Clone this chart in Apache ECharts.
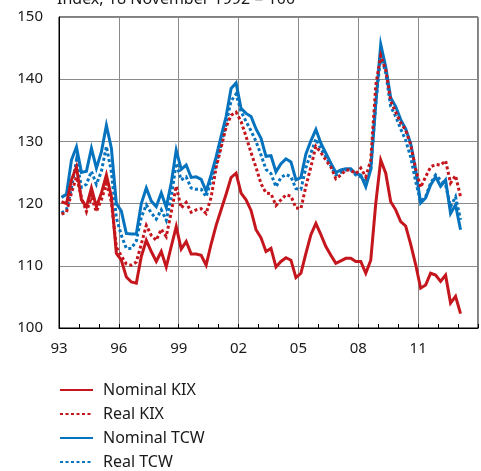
<!DOCTYPE html>
<html>
<head>
<meta charset="utf-8">
<script src="https://cdn.jsdelivr.net/npm/echarts@6/dist/echarts.min.js"></script>
<style>
html,body{margin:0;padding:0;background:#fff;}
#chart{width:481px;height:471px;}
</style>
</head>
<body>
<div id="chart"></div>
<script>
// Quarterly observations, first quarter = 1993 Q1, plotted at mid-quarter
const firstYear = 1993;
const firstQuarter = 1;
const seriesNames = ['Nominal KIX', 'Real KIX', 'Nominal TCW', 'Real TCW'];
const xTickLabels = ['93', '96', '99', '02', '05', '08', '11'];
const yTicks = [100, 110, 120, 130, 140, 150];

const nominalKIX = [120.3,120.0,123.8,125.9,120.6,119.5,122.5,119.5,121.7,124.6,
121.1,112.0,110.9,108.2,107.4,107.2,111.5,114.1,112.3,110.7,
112.3,109.8,113.1,116.3,112.7,113.9,111.9,111.9,111.7,110.1,
113.5,116.5,119.0,121.5,124.2,124.9,121.7,120.6,118.9,115.8,
114.5,112.3,112.8,109.8,110.7,111.3,110.9,108.1,108.8,112.0,
115.0,116.8,115.0,113.1,111.7,110.4,110.8,111.2,111.2,110.7,
110.7,108.8,110.9,120.0,127.0,124.9,120.3,119.0,117.1,116.4,
113.5,110.2,106.4,106.9,108.8,108.5,107.5,108.5,104.0,105.1,
102.3];

const realKIX = [118.3,118.6,121.7,124.3,121.0,118.7,121.0,118.7,120.6,123.2,
120.3,113.0,111.6,110.3,110.1,110.6,113.5,116.5,114.9,114.1,
115.9,114.7,118.6,122.8,119.3,120.2,118.6,119.0,119.2,118.4,
121.0,125.8,129.0,132.3,134.2,134.7,133.2,130.8,128.2,125.8,
123.2,121.7,121.6,119.7,120.6,121.4,121.2,119.3,119.2,122.8,
125.9,129.2,128.2,127.0,125.9,124.0,124.6,125.4,125.4,124.8,
125.7,124.3,127.0,139.0,143.8,141.5,136.5,134.7,133.0,131.8,
129.5,125.6,122.6,124.3,125.9,126.3,126.2,126.9,123.3,124.5,
121.1];

const nominalTCW = [121.0,121.5,127.0,129.1,125.0,125.2,128.9,125.7,128.3,132.6,
128.9,120.0,118.8,115.2,115.1,115.1,120.0,122.5,120.4,119.5,
121.7,119.4,123.3,128.6,125.5,126.2,124.2,124.3,123.9,122.0,
124.6,127.5,130.8,134.0,138.5,139.4,135.3,134.5,134.0,132.0,
130.5,127.6,127.7,125.1,126.4,127.2,126.7,123.8,124.2,128.0,
130.1,131.9,129.7,128.1,126.5,125.0,125.4,125.6,125.6,124.8,
124.6,122.7,125.5,136.0,145.6,142.0,137.0,135.6,133.5,132.0,
129.7,125.5,120.1,120.9,123.0,124.3,122.8,123.8,118.4,119.8,
115.8];

const realTCW = [118.5,119.0,122.5,127.0,122.6,123.1,125.2,123.1,125.2,129.2,
125.1,117.7,114.9,112.8,112.8,114.0,117.8,119.8,118.5,117.5,
119.0,117.3,121.1,126.5,123.8,124.3,122.5,122.3,122.3,121.1,
123.8,126.2,129.5,132.9,136.5,137.6,134.8,133.2,131.7,130.0,
127.8,125.5,124.8,122.7,124.2,124.7,124.3,122.4,122.3,125.8,
128.1,130.4,128.8,127.5,126.1,124.6,125.0,125.4,125.4,124.6,
124.3,123.5,125.5,136.0,143.9,141.0,135.6,134.0,132.0,130.2,
127.5,123.6,120.3,121.1,123.3,124.6,123.8,123.0,119.5,121.1,
117.4];

const RED = '#c4161c';
const BLUE = '#0573bd';

function toPairs(values) {
  return values.map((v, i) => {
    const q = firstQuarter - 1 + i;
    const t = firstYear + Math.floor(q / 4) + ((q % 4) + 0.5) / 4;
    return [t, v];
  });
}

const FONT = 'Noto Sans';
const chart = echarts.init(document.getElementById('chart'), null, {renderer: 'canvas'});

function lineSeries(name, values, color, dotted, z) {
  return {
    name: name,
    type: 'line',
    data: toPairs(values),
    symbol: 'none',
    smooth: false,
    z: z,
    lineStyle: {
      color: color,
      width: 3,
      type: dotted ? [3, 2.5] : 'solid',
      cap: 'butt',
      join: 'miter'
    },
    itemStyle: {color: color},
    emphasis: {disabled: true}
  };
}

chart.setOption({
  animation: false,
  backgroundColor: '#fff',
  textStyle: {fontFamily: FONT},
  graphic: [{
    type: 'text',
    left: 57,
    top: -9,
    style: {
      text: 'Index, 18 November 1992 = 100',
      font: '16px "Noto Sans"',
      fill: '#1a1a1a'
    }
  }],
  grid: {
    left: 59, right: 3, top: 17, bottom: 143,
    show: true, borderColor: '#000', borderWidth: 1,
    containLabel: false
  },
  legend: {
    orient: 'vertical',
    left: 59,
    top: 382,
    padding: 0,
    itemWidth: 33,
    itemHeight: 14,
    itemGap: 8,
    data: seriesNames,
    itemStyle: {color: 'rgba(0,0,0,0)', borderWidth: 0, opacity: 0},
    textStyle: {fontFamily: FONT, fontSize: 16, color: '#1a1a1a', padding: [0, 0, 0, 5]}
  },
  xAxis: {
    type: 'value',
    min: 1993,
    max: 2014,
    interval: 3,
    axisLine: {show: true, lineStyle: {color: '#000', width: 1}},
    axisTick: {show: true, inside: true, length: 4, lineStyle: {color: '#000'}},
    minorTick: {show: true, splitNumber: 3, length: 4, lineStyle: {color: '#000'}},
    splitLine: {show: true, lineStyle: {color: '#8a8a8a', width: 1}},
    axisLabel: {
      margin: 13,
      fontFamily: FONT,
      fontSize: 15,
      color: '#1a1a1a',
      formatter: function (v) {
        const idx = Math.round((v - 1993) / 3);
        return xTickLabels[idx] !== undefined ? xTickLabels[idx] : '';
      }
    }
  },
  yAxis: {
    type: 'value',
    min: yTicks[0],
    max: yTicks[yTicks.length - 1],
    interval: 10,
    axisLine: {show: true, lineStyle: {color: '#000', width: 1}},
    axisTick: {show: false},
    splitLine: {show: true, lineStyle: {color: '#8a8a8a', width: 1}},
    axisLabel: {margin: 16, fontFamily: FONT, fontSize: 15, color: '#1a1a1a'}
  },
  series: [
    lineSeries(seriesNames[2], nominalTCW, BLUE, false, 2),
    lineSeries(seriesNames[3], realTCW, BLUE, true, 3),
    lineSeries(seriesNames[0], nominalKIX, RED, false, 4),
    lineSeries(seriesNames[1], realKIX, RED, true, 5)
  ]
});
</script>
</body>
</html>
